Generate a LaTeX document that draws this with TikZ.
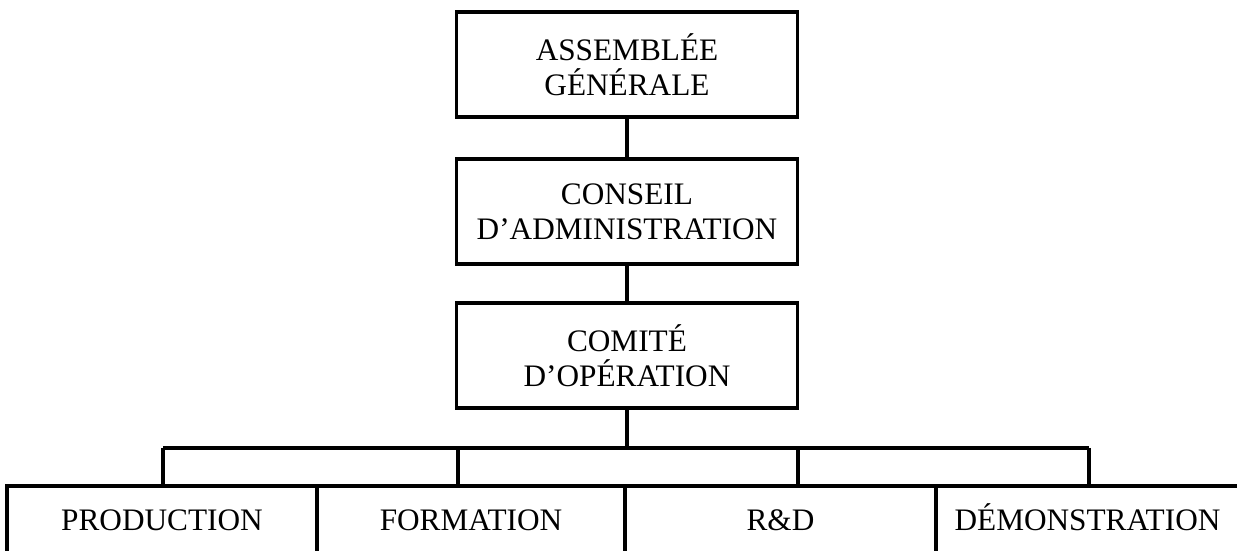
\documentclass[tikz,border=0pt]{standalone}
\usepackage{fontspec}
\setmainfont{Liberation Serif}
\begin{document}
\begin{tikzpicture}[line width=0.9pt,
        bloc/.style={draw, align=center, inner sep=0pt, minimum width=3.41cm, minimum height=1.05cm, font=\fontsize{8.9}{10}\selectfont},
        service/.style={draw, inner sep=0pt, minimum height=0.68cm, text height=0.207cm, text depth=0pt, font=\fontsize{8.9}{10}\selectfont}]
        \useasboundingbox (0,0) rectangle (12.37,5.51);
        \node[bloc] (ag) at (6.27,4.865) {ASSEMBLÉE\\GÉNÉRALE};
        \node[bloc] (ca) at (6.27,3.395) {CONSEIL\\D’ADMINISTRATION};
        \node[bloc] (co) at (6.27,1.955) {COMITÉ\\D’OPÉRATION};
        \node[service, minimum width=3.10cm] (prod) at (1.62,0.31) {PRODUCTION};
        \node[service, minimum width=3.08cm] (form) at (4.71,0.31) {FORMATION};
        \node[service, minimum width=3.11cm] (rd) at (7.805,0.31) {R\&D};
        \node[service, minimum width=3.03cm] (demo) at (10.875,0.31) {DÉMONSTRATION};
        \coordinate (d1) at (1.63,1.03);
        \coordinate (d2) at (4.58,1.03);
        \coordinate (d3) at (7.98,1.03);
        \coordinate (d4) at (10.89,1.03);
        \draw (ag) -- (ca);
        \draw (ca) -- (co);
        \draw (co) -- (co |- d1);
        \draw (d1) -- (d4);
        \draw (d1) -- (d1 |- prod.north);
        \draw (d2) -- (d2 |- form.north);
        \draw (d3) -- (d3 |- rd.north);
        \draw (d4) -- (d4 |- demo.north);
\end{tikzpicture}
\end{document}
